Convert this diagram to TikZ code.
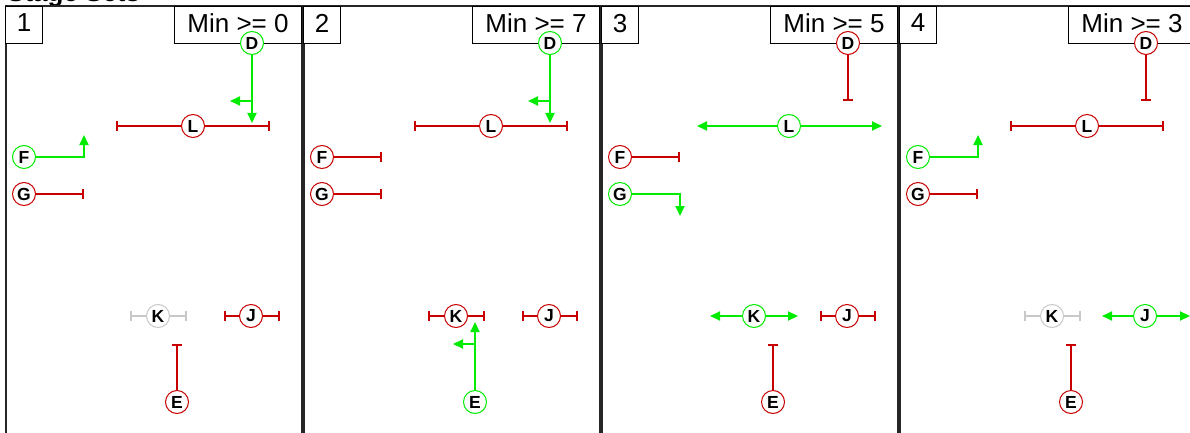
\documentclass[tikz,border=0pt]{standalone}
\usepackage{fontspec}
\setmainfont{Liberation Sans}
\usetikzlibrary{arrows.meta}
\definecolor{grn}{RGB}{0,235,0}
\definecolor{rd}{RGB}{200,0,0}
\definecolor{gry}{RGB}{200,200,200}
\tikzset{
  nd/.style={circle, fill=white, minimum size=23pt, inner sep=0pt, line width=1pt, text=black,
    font=\bfseries\fontsize{17.5}{19}\selectfont},
  ndon/.style={nd, draw=grn},
  ndoff/.style={nd, draw=rd},
  ndidle/.style={nd, draw=gry},
  gohead/.style={draw=grn, line width=2pt, -{Triangle[length=10pt,width=9pt]}},
  stopbar/.style={draw=rd, line width=2pt, -{Bar[width=10pt]}},
  idlebar/.style={draw=gry, line width=1.6pt, -{Bar[width=10pt]}},
  frame/.style={draw=black!85, line width=1.5pt},
  lbl/.style={draw=black, line width=1pt, fill=white, inner sep=0pt, minimum height=37pt,
    text depth=4pt, font=\fontsize{26}{30}\selectfont},
}
\begin{document}
\begin{tikzpicture}[x=1pt, y=-1pt]
\useasboundingbox (0,0) rectangle (1190,433);
\clip (0,0) rectangle (1190,433);
\node[anchor=base west, font=\bfseries\fontsize{26}{30}\selectfont, inner sep=0pt] (title) at (7,2) {Stage Sets};

% ---------- Panel 1 ----------
\begin{scope}[xshift=6pt]
\draw[frame] (0,6) rectangle (296,460);
\node[lbl, anchor=north west, minimum width=37pt] (n1) at (-1,6) {1};
\node[lbl, anchor=north east, minimum width=127pt] (m1) at (296,6) {Min >= 0};
\coordinate (d1t) at (246,123); \coordinate (d1s) at (246,101); \coordinate (d1l) at (224,101);
\coordinate (l1a) at (110,126); \coordinate (l1b) at (264,126);
\coordinate (f1c) at (78,157); \coordinate (f1t) at (78,135);
\coordinate (g1t) at (78,194);
\coordinate (k1a) at (124,316); \coordinate (k1b) at (181,316);
\coordinate (j1a) at (218,316); \coordinate (j1b) at (274,316);
\coordinate (e1t) at (171,344);
\node[ndon] (D1) at (246,43) {D};
\node[ndoff] (L1) at (187,126) {L};
\node[ndon] (F1) at (18,157) {F};
\node[ndoff] (G1) at (18,194) {G};
\node[ndidle] (K1) at (152,316) {K};
\node[ndoff] (J1) at (245,316) {J};
\node[ndoff] (E1) at (171,402) {E};
\draw[gohead] (D1) -- (d1t);
\draw[gohead] (d1s) -- (d1l);
\draw[stopbar] (L1) -- (l1a);
\draw[stopbar] (L1) -- (l1b);
\draw[gohead] (F1) -- (f1c) -- (f1t);
\draw[stopbar] (G1) -- (g1t);
\draw[idlebar] (K1) -- (k1a);
\draw[idlebar] (K1) -- (k1b);
\draw[stopbar] (J1) -- (j1a);
\draw[stopbar] (J1) -- (j1b);
\draw[stopbar] (E1) -- (e1t);
\end{scope}

% ---------- Panel 2 ----------
\begin{scope}[xshift=304pt]
\draw[frame] (0,6) rectangle (296,460);
\node[lbl, anchor=north west, minimum width=37pt] (n2) at (-1,6) {2};
\node[lbl, anchor=north east, minimum width=127pt] (m2) at (296,6) {Min >= 7};
\coordinate (d2t) at (246,123); \coordinate (d2s) at (246,101); \coordinate (d2l) at (224,101);
\coordinate (l2a) at (110,126); \coordinate (l2b) at (264,126);
\coordinate (f2t) at (78,157);
\coordinate (g2t) at (78,194);
\coordinate (k2a) at (124,316); \coordinate (k2b) at (181,316);
\coordinate (j2a) at (218,316); \coordinate (j2b) at (274,316);
\coordinate (e2t) at (171,322); \coordinate (e2s) at (171,344); \coordinate (e2l) at (149,344);
\node[ndon] (D2) at (246,43) {D};
\node[ndoff] (L2) at (187,126) {L};
\node[ndoff] (F2) at (18,157) {F};
\node[ndoff] (G2) at (18,194) {G};
\node[ndoff] (K2) at (152,316) {K};
\node[ndoff] (J2) at (245,316) {J};
\node[ndon] (E2) at (171,402) {E};
\draw[gohead] (D2) -- (d2t);
\draw[gohead] (d2s) -- (d2l);
\draw[stopbar] (L2) -- (l2a);
\draw[stopbar] (L2) -- (l2b);
\draw[stopbar] (F2) -- (f2t);
\draw[stopbar] (G2) -- (g2t);
\draw[stopbar] (K2) -- (k2a);
\draw[stopbar] (K2) -- (k2b);
\draw[stopbar] (J2) -- (j2a);
\draw[stopbar] (J2) -- (j2b);
\draw[gohead] (E2) -- (e2t);
\draw[gohead] (e2s) -- (e2l);
\end{scope}

% ---------- Panel 3 ----------
\begin{scope}[xshift=602pt]
\draw[frame] (0,6) rectangle (296,460);
\node[lbl, anchor=north west, minimum width=37pt] (n3) at (-1,6) {3};
\node[lbl, anchor=north east, minimum width=127pt] (m3) at (296,6) {Min >= 5};
\coordinate (d3t) at (246,101);
\coordinate (l3a) at (95,126); \coordinate (l3b) at (280,126);
\coordinate (f3t) at (78,157);
\coordinate (g3c) at (78,194); \coordinate (g3t) at (78,216);
\coordinate (k3a) at (108,316); \coordinate (k3b) at (196,316);
\coordinate (j3a) at (218,316); \coordinate (j3b) at (274,316);
\coordinate (e3t) at (171,344);
\node[ndoff] (D3) at (246,43) {D};
\node[ndon] (L3) at (187,126) {L};
\node[ndoff] (F3) at (18,157) {F};
\node[ndon] (G3) at (18,194) {G};
\node[ndon] (K3) at (152,316) {K};
\node[ndoff] (J3) at (245,316) {J};
\node[ndoff] (E3) at (171,402) {E};
\draw[stopbar] (D3) -- (d3t);
\draw[gohead] (L3) -- (l3a);
\draw[gohead] (L3) -- (l3b);
\draw[stopbar] (F3) -- (f3t);
\draw[gohead] (G3) -- (g3c) -- (g3t);
\draw[gohead] (K3) -- (k3a);
\draw[gohead] (K3) -- (k3b);
\draw[stopbar] (J3) -- (j3a);
\draw[stopbar] (J3) -- (j3b);
\draw[stopbar] (E3) -- (e3t);
\end{scope}

% ---------- Panel 4 ----------
\begin{scope}[xshift=900pt]
\draw[frame] (0,6) rectangle (296,460);
\node[lbl, anchor=north west, minimum width=37pt] (n4) at (-1,6) {4};
\node[lbl, anchor=north east, minimum width=127pt] (m4) at (296,6) {Min >= 3};
\coordinate (d4t) at (246,101);
\coordinate (l4a) at (110,126); \coordinate (l4b) at (264,126);
\coordinate (f4c) at (78,157); \coordinate (f4t) at (78,135);
\coordinate (g4t) at (78,194);
\coordinate (k4a) at (124,316); \coordinate (k4b) at (181,316);
\coordinate (j4a) at (202,316); \coordinate (j4b) at (290,316);
\coordinate (e4t) at (171,344);
\node[ndoff] (D4) at (246,43) {D};
\node[ndoff] (L4) at (187,126) {L};
\node[ndon] (F4) at (18,157) {F};
\node[ndoff] (G4) at (18,194) {G};
\node[ndidle] (K4) at (152,316) {K};
\node[ndon] (J4) at (245,316) {J};
\node[ndoff] (E4) at (171,402) {E};
\draw[stopbar] (D4) -- (d4t);
\draw[stopbar] (L4) -- (l4a);
\draw[stopbar] (L4) -- (l4b);
\draw[gohead] (F4) -- (f4c) -- (f4t);
\draw[stopbar] (G4) -- (g4t);
\draw[idlebar] (K4) -- (k4a);
\draw[idlebar] (K4) -- (k4b);
\draw[gohead] (J4) -- (j4a);
\draw[gohead] (J4) -- (j4b);
\draw[stopbar] (E4) -- (e4t);
\end{scope}
\end{tikzpicture}
\end{document}
